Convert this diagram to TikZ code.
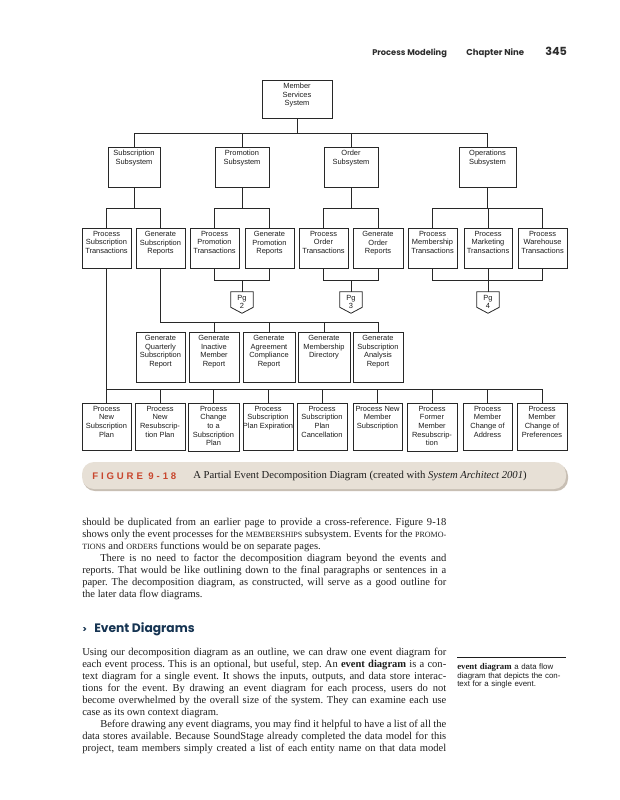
\documentclass[tikz,border=0pt]{standalone}
\usepackage{fontspec}
\setmainfont{Liberation Serif}
\newfontfamily\diafont{Liberation Sans}
\newfontfamily\headfont{Poppins}
\newfontfamily\figfont{Liberation Sans}[LetterSpace=30]
\usetikzlibrary{fit,calc}
\definecolor{hdr}{RGB}{45,45,45}
\definecolor{navy}{RGB}{22,52,82}
\definecolor{figred}{RGB}{200,70,45}
\definecolor{banner}{RGB}{231,224,214}
\definecolor{bannersh}{RGB}{200,191,180}
\definecolor{ink}{RGB}{30,30,30}
\definecolor{lineg}{RGB}{40,40,40}
\newcommand\smc[1]{{\fontsize{6}{9}\selectfont #1}}
\newcommand\mkbox[6]{\node[bx, fit={(#2,#3) (#4,#5)}] (#1) {};
  \node[bt] (#1t) at ($(#1.north)+(0,3.5)$) {#6};}
\newcommand\mkpg[3]{\node[inner sep=0pt, fit={(#2-11,292) (#2+11,307)}] (#1) {};
  \draw[ln] (#1.north west) -- (#1.north east) -- (#1.south east) -- ($(#1.south)+(0,6)$) -- (#1.south west) -- cycle;
  \node[bt, anchor=center] (#1t) at ($(#1.center)+(0,2.5)$) {Pg\\#3};}
\frenchspacing
\begin{document}
\begin{tikzpicture}[x=0.75pt,y=-0.75pt,
 bx/.style={draw=lineg, line width=0.7pt, inner sep=0pt},
 bt/.style={font=\diafont\fontsize{5.6}{6.4}\selectfont, align=center, anchor=north, inner sep=0pt, text=ink},
 ln/.style={draw=lineg, line width=0.6pt},
 body/.style={anchor=north west, inner sep=0pt, text width=273pt, align=justify, font=\fontsize{7.9}{9}\selectfont, text=ink}]
\fill[white] (0,0) rectangle (619,800);
\useasboundingbox (0,0) rectangle (619,800);

% running head
\node[anchor=base west, inner sep=0pt, text=hdr, font=\headfont\bfseries\fontsize{6.2}{7}\selectfont] (h1) at (372,55) {Process Modeling};
\node[anchor=base west, inner sep=0pt, text=hdr, font=\headfont\bfseries\fontsize{6.4}{7}\selectfont] (h2) at (466,55) {Chapter Nine};
\node[anchor=base west, inner sep=0pt, text=hdr, font=\headfont\bfseries\fontsize{8.4}{9}\selectfont] (h3) at (545,55) {345};

% level 0 and 1
\mkbox{mss}{262}{80}{332}{118}{Member\\Services\\System}
\mkbox{sub}{108}{147}{160}{187}{Subscription\\Subsystem}
\mkbox{pro}{215}{147}{269}{187}{Promotion\\Subsystem}
\mkbox{ord}{324}{147}{378}{187}{Order\\Subsystem}
\mkbox{ops}{459}{147}{516}{187}{Operations\\Subsystem}

% level 2
\mkbox{pst}{82}{228}{131}{268}{Process\\Subscription\\Transactions}
\mkbox{gsr}{136}{228}{185}{268}{Generate\\Subscription\\Reports}
\mkbox{ppt}{190}{228}{239}{268}{Process\\Promotion\\Transactions}
\mkbox{gpr}{245}{228}{294}{268}{Generate\\Promotion\\Reports}
\mkbox{pot}{299}{228}{348}{268}{Process\\Order\\Transactions}
\mkbox{gor}{353}{228}{403}{268}{Generate\\Order\\Reports}
\mkbox{pmt}{408}{228}{457}{268}{Process\\Membership\\Transactions}
\mkbox{pkt}{464}{228}{512}{268}{Process\\Marketing\\Transactions}
\mkbox{pwt}{518}{228}{567}{268}{Process\\Warehouse\\Transactions}

% off-page connectors
\mkpg{pga}{242}{2}
\mkpg{pgb}{351}{3}
\mkpg{pgc}{488}{4}

% reports
\mkbox{ra}{136}{332}{185}{382}{Generate\\Quarterly\\Subscription\\Report}
\mkbox{rb}{189}{332}{239}{382}{Generate\\Inactive\\Member\\Report}
\mkbox{rc}{243}{332}{295}{382}{Generate\\Agreement\\Compliance\\Report}
\mkbox{rd}{298}{332}{350}{382}{Generate\\Membership\\Directory}
\mkbox{re}{353}{332}{403}{382}{Generate\\Subscription\\Analysis\\Report}

% events
\mkbox{ea}{82}{403}{131}{450}{Process\\New\\Subscription\\Plan}
\mkbox{eb}{135}{403}{185}{450}{Process\\New\\Resubscrip-\\tion Plan}
\mkbox{ec}{188}{403}{239}{451}{Process\\Change\\to a\\Subscription\\Plan}
\mkbox{ed}{243}{403}{293}{450}{Process\\Subscription\\Plan Expiration}
\mkbox{ee}{297}{403}{347}{450}{Process\\Subscription\\Plan\\Cancellation}
\mkbox{ef}{353}{403}{402}{450}{Process New\\Member\\Subscription}
\mkbox{eg}{407}{403}{457}{451}{Process\\Former\\Member\\Resubscrip-\\tion}
\mkbox{eh}{463}{403}{512}{450}{Process\\Member\\Change of\\Address}
\mkbox{ei}{517}{403}{567}{450}{Process\\Member\\Change of\\Preferences}

% bus levels
\coordinate (busA) at (0,133);
\coordinate (busB) at (0,208);
\coordinate (busC) at (0,280);
\coordinate (busE) at (0,322);
\coordinate (busD) at (0,389);

% level 0 -> 1
\draw[ln] (mss.south) -- (mss.south |- busA);
\draw[ln] (sub.north) |- (ops.north |- busA) -- (ops.north);
\draw[ln] (pro.north) -- (pro.north |- busA);
\draw[ln] (ord.north) -- (ord.north |- busA);

% level 1 -> 2
\draw[ln] (sub.south) -- (sub.south |- busB);
\draw[ln] (pst.north) |- (gsr.north |- busB) -- (gsr.north);
\draw[ln] (pro.south) -- (pro.south |- busB);
\draw[ln] (ppt.north) |- (gpr.north |- busB) -- (gpr.north);
\draw[ln] (ord.south) -- (ord.south |- busB);
\draw[ln] (pot.north) |- (gor.north |- busB) -- (gor.north);
\draw[ln] (ops.south) -- (ops.south |- busB);
\draw[ln] (pmt.north) |- (pwt.north |- busB) -- (pwt.north);
\draw[ln] (pkt.north) -- (pkt.north |- busB);

% level 2 -> off-page
\draw[ln] (ppt.south) |- (gpr.south |- busC) -- (gpr.south);
\draw[ln] (pga.north) -- (pga.north |- busC);
\draw[ln] (pot.south) |- (gor.south |- busC) -- (gor.south);
\draw[ln] (pgb.north) -- (pgb.north |- busC);
\draw[ln] (pmt.south) |- (pwt.south |- busC) -- (pwt.south);
\draw[ln] (pkt.south) -- (pgc.north);

% reports
\draw[ln] (gsr.south) |- (re.north |- busE) -- (re.north);
\draw[ln] (rb.north) -- (rb.north |- busE);
\draw[ln] (rc.north) -- (rc.north |- busE);
\draw[ln] (rd.north) -- (rd.north |- busE);

% events
\draw[ln] (pst.south) -- (ea.north);
\draw[ln] (ea.north |- busD) -- (ei.north |- busD) -- (ei.north);
\foreach \e in {eb,ec,ed,ee,ef,eg,eh} {\draw[ln] (\e.north) -- (\e.north |- busD);}

% caption banner
\fill[bannersh, rounded corners=9pt] (83,464) rectangle (568,491);
\node[fill=banner, rounded corners=9pt, inner sep=0pt, fit={(82,462) (566,489)}] (cap) {};
\node[anchor=west, inner sep=0pt, text=figred, font=\figfont\bfseries\fontsize{7.2}{8}\selectfont] (capf) at (92,476) {FIGURE 9-18};
\node[anchor=west, inner sep=0pt, text=ink, font=\fontsize{8}{9}\selectfont] (capt) at (193,476) {A Partial Event Decomposition Diagram (created with \textit{System Architect 2001})};

% body text
\node[body] (para1) at (82,518) {%
should be duplicated from an earlier page to provide a cross-reference. Figure 9-18\linebreak
shows only the event processes for the \smc{MEMBERSHIPS} subsystem. Events for the \smc{PROMO-}\linebreak
\smc{TIONS} and \smc{ORDERS} functions would be on separate pages.\par
\hspace*{13.5pt}There is no need to factor the decomposition diagram beyond the events and\linebreak
reports. That would be like outlining down to the final paragraphs or sentences in a\linebreak
paper. The decomposition diagram, as constructed, will serve as a good outline for\linebreak
the later data flow diagrams.};

\node[anchor=west, inner sep=0pt, text=navy, font=\headfont\bfseries\fontsize{6.5}{7}\selectfont] (hdg1) at (82,630) {>};
\node[anchor=west, inner sep=0pt, text=navy, font=\headfont\bfseries\fontsize{9.2}{10}\selectfont] (hdg2) at (94,629) {Event Diagrams};

\node[body] (para2) at (82,648) {%
Using our decomposition diagram as an outline, we can draw one event diagram for\linebreak
each event process. This is an optional, but useful, step. An \textbf{event diagram} is a con-\linebreak
text diagram for a single event. It shows the inputs, outputs, and data store interac-\linebreak
tions for the event. By drawing an event diagram for each process, users do not\linebreak
become overwhelmed by the overall size of the system. They can examine each use\linebreak
case as its own context diagram.\par
{\parfillskip=0pt \hspace*{13.5pt}Before drawing any event diagrams, you may find it helpful to have a list of all the\linebreak
data stores available. Because SoundStage already completed the data model for this\linebreak
project, team members simply created a list of each entity name on that data model\par}};

% margin note
\draw[line width=0.5pt, draw=ink] (457,657) coordinate (mr1) -- (566,657) coordinate (mr2);
\node[anchor=north west, inner sep=0pt, text width=90pt, align=left, text=ink, font=\diafont\fontsize{5.9}{6.5}\selectfont] (mnote) at (457,663) {%
{\rmfamily\bfseries\fontsize{6.6}{6.5}\selectfont event diagram} a data flow\\
diagram that depicts the con-\\
text for a single event.};
\end{tikzpicture}
\end{document}
